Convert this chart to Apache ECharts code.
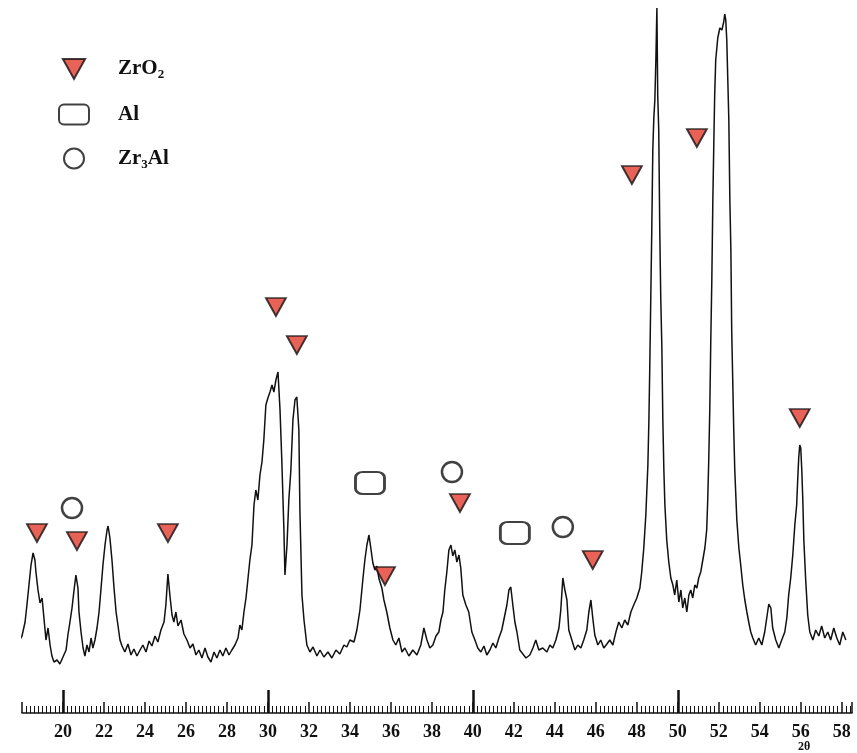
<!DOCTYPE html>
<html>
<head>
<meta charset="utf-8">
<title>XRD pattern</title>
<script src="https://cdn.jsdelivr.net/npm/echarts@6/dist/echarts.min.js"></script>
<style>
  html, body { margin: 0; padding: 0; background: #fff; }
  #chart { width: 857px; height: 753px; }
</style>
</head>
<body>
<div id="chart"></div>
<script>
// Diffraction scan: 2θ (degrees) and intensity (a.u.)
const twoTheta = [
  17.41,17.56,17.71,17.85,18.00,18.15,18.24,18.34,18.44,18.54,
  18.63,18.68,18.78,18.88,18.98,19.07,19.17,19.27,19.37,19.46,
  19.56,19.71,19.85,20.00,20.15,20.24,20.34,20.44,20.54,20.63,
  20.73,20.78,20.88,20.98,21.07,21.17,21.27,21.37,21.46,21.56,
  21.66,21.76,21.85,21.95,22.05,22.15,22.20,22.29,22.39,22.49,
  22.59,22.68,22.78,22.88,23.02,23.17,23.32,23.46,23.61,23.76,
  23.90,24.05,24.20,24.34,24.49,24.63,24.78,24.93,25.02,25.12,
  25.22,25.32,25.41,25.51,25.61,25.76,25.90,26.05,26.20,26.34,
  26.49,26.63,26.78,26.93,27.07,27.22,27.37,27.51,27.66,27.80,
  27.95,28.10,28.24,28.39,
  28.54,28.63,28.73,28.83,28.93,29.02,29.12,29.22,29.32,29.41,
  29.51,29.61,29.71,29.80,29.90,30.00,30.10,30.20,30.29,30.39,
  30.49,30.59,30.68,30.78,30.83,30.93,31.02,31.12,31.22,31.32,
  31.41,31.51,31.56,31.66,31.76,31.90,32.05,32.20,32.39,32.54,
  32.73,32.93,33.12,33.32,33.51,33.71,33.85,34.00,34.20,34.34,
  34.49,34.63,34.73,34.83,34.93,35.02,35.12,35.22,35.32,35.41,
  35.56,35.66,35.80,35.95,36.10,36.24,36.39,36.54,36.68,36.88,
  37.07,37.27,37.46,37.61,37.76,37.90,
  38.05,38.20,38.34,38.44,38.54,38.63,38.73,38.83,38.93,39.02,
  39.12,39.22,39.32,39.41,39.51,39.66,39.80,39.95,40.10,40.24,
  40.39,40.54,40.68,40.83,40.98,41.12,41.27,41.41,41.56,41.66,
  41.76,41.85,41.95,42.05,42.15,42.29,42.44,42.59,42.78,42.93,
  43.07,43.22,43.41,43.61,43.76,43.90,44.05,44.20,44.29,44.39,
  44.49,44.59,44.68,44.83,44.98,45.12,45.27,45.41,45.56,45.66,
  45.76,45.85,45.95,46.10,46.24,46.39,46.54,46.68,46.83,46.98,
  47.12,47.27,47.41,47.56,47.71,47.85,48.00,
  48.15,48.24,48.34,48.44,48.54,48.59,48.63,48.68,48.73,48.78,
  48.83,48.88,48.93,48.98,49.02,49.07,49.12,49.17,49.22,49.27,
  49.32,49.37,49.46,49.56,49.66,49.76,49.85,49.95,50.05,50.15,
  50.24,50.34,50.44,50.54,50.63,50.73,50.83,50.93,51.02,51.12,
  51.22,51.32,51.41,51.46,51.51,51.56,51.61,51.66,51.71,51.76,
  51.80,51.85,51.95,52.05,52.15,52.24,52.29,52.34,52.39,52.44,
  52.49,52.54,52.59,52.63,52.68,52.73,52.78,52.88,52.98,53.07,
  53.17,53.27,53.37,53.46,53.56,53.66,53.80,53.95,54.10,54.24,
  54.34,54.44,54.54,54.63,54.78,54.93,55.07,55.22,55.32,55.41,
  55.51,55.61,55.71,55.80,55.85,55.90,55.95,56.00,56.05,56.10,
  56.15,56.24,56.34,56.44,56.59,56.73,56.88,57.02,57.17,57.32,
  57.46,57.61,57.76,57.90,58.05,58.20
];
const intensity = [
  116,126,122,144,154,182,216,256,296,320,
  306,282,246,220,230,190,146,170,136,114,
  102,106,98,112,126,156,182,210,246,276,
  250,202,162,130,114,136,122,150,130,146,
  170,202,246,296,336,366,374,350,306,250,
  202,176,146,134,122,138,116,128,114,126,
  136,122,144,134,154,142,166,182,216,278,
  234,196,182,202,174,186,158,146,130,138,
  116,126,110,130,112,102,122,110,126,114,
  130,116,126,136,
  150,176,166,202,230,266,306,336,416,446,
  426,476,502,546,616,630,642,656,642,666,
  682,606,502,366,276,336,426,486,586,626,
  632,566,406,236,186,136,122,132,114,126,
  112,122,110,126,118,136,132,146,142,166,
  206,266,306,336,356,330,300,286,294,270,
  250,226,202,170,146,136,150,122,130,114,
  126,116,136,170,146,130,
  136,154,162,186,202,246,282,326,336,314,
  326,302,316,290,236,216,202,162,146,130,
  122,134,116,126,140,130,150,166,196,216,
  246,252,216,182,162,126,118,110,116,130,
  146,126,130,122,136,130,146,170,206,270,
  246,226,166,146,126,136,130,146,166,202,
  226,190,156,136,146,130,138,146,136,162,
  182,170,186,176,202,216,230,
  250,282,330,396,496,586,686,826,966,1126,
  1190,1226,1306,1410,1236,1166,966,826,736,586,
  486,416,346,302,270,256,236,266,222,246,
  210,230,202,236,246,230,256,250,270,282,
  306,330,366,426,506,606,746,866,1026,1146,
  1236,1306,1350,1370,1366,1382,1398,1386,1346,1266,
  1186,1026,926,766,666,566,486,386,330,296,
  256,226,202,182,162,150,136,150,136,162,
  190,218,210,170,146,130,146,162,190,236,
  270,316,376,416,466,510,536,530,486,426,
  346,266,196,162,146,166,154,174,150,162,
  146,170,150,136,162,146
];

// Phase markers placed above the reflections: [2θ, intensity]
const zro2Marks = [[18.73,360],[20.68,344],[25.12,360],[30.39,812],[31.41,736],[35.71,274],[39.37,420],[45.85,306],[47.76,1076],[50.93,1150],[55.95,590]];
const alMarks = [[34.98,460],[42.05,360]];
const zr3alMarks = [[20.44,410],[38.98,482],[44.39,372]];

const phaseNames = ['ZrO2', 'Al', 'Zr3Al'];
const phaseLabels = { 'ZrO2': 'ZrO{s|2}', 'Al': 'Al', 'Zr3Al': 'Zr{s|3}Al' };
const majorTicks = [20, 30, 40, 50];

const triPath = 'path://M0,0L20,0L10,18Z';
const serif = '"Liberation Serif", "DejaVu Serif", serif';

const chart = echarts.init(document.getElementById('chart'), null, { renderer: 'canvas' });

const scan = twoTheta.map((t, i) => [t, intensity[i]]);

chart.setOption({
  animation: false,
  backgroundColor: '#fff',
  grid: { left: 22, right: 5, top: 5, bottom: 40 },
  legend: {
    orient: 'vertical',
    left: 53,
    top: 53,
    itemWidth: 30,
    itemHeight: 20,
    itemGap: 22,
    selectedMode: false,
    data: [
      { name: phaseNames[0], icon: triPath },
      { name: phaseNames[1], icon: 'roundRect' },
      { name: phaseNames[2], icon: 'circle' }
    ],
    formatter: n => phaseLabels[n],
    textStyle: {
      fontFamily: serif, fontSize: 21, fontWeight: 'bold', color: '#111',
      padding: [0, 0, 0, 24],
      rich: { s: { fontFamily: serif, fontSize: 13, fontWeight: 'bold', verticalAlign: 'bottom', padding: [12, 0, 0, 0] } }
    }
  },
  xAxis: [
    {
      type: 'value', min: 18, max: 58.5, interval: 2,
      axisLine: { show: true, lineStyle: { color: '#111', width: 1.5 } },
      axisTick: { show: true, inside: true, length: 11, lineStyle: { color: '#111', width: 1.5 } },
      minorTick: { show: true, splitNumber: 10, length: 7, lineStyle: { color: '#111', width: 1 } },
      splitLine: { show: false },
      axisLabel: {
        margin: 10, color: '#111', fontFamily: serif, fontSize: 18, fontWeight: 'bold',
        formatter: v => (v >= 20 && v <= 58 && Math.abs(v - Math.round(v)) < 1e-6) ? String(v) : ''
      }
    },
    {
      type: 'value', min: 18, max: 58.5, position: 'bottom',
      axisLine: { show: false },
      axisTick: { show: true, inside: true, length: 23, customValues: majorTicks, lineStyle: { color: '#111', width: 2.5 } },
      axisLabel: { show: false },
      splitLine: { show: false }
    }
  ],
  yAxis: { type: 'value', min: 0, max: 1416, show: false },
  graphic: [
    { type: 'text', left: 798, top: 741, style: { text: '2θ', font: 'bold 12px ' + serif, fill: '#111' } }
  ],
  series: [
    {
      name: 'scan', type: 'line', data: scan, showSymbol: false, symbol: 'none', clip: false,
      lineStyle: { color: '#111', width: 1.5 }, z: 2
    },
    {
      name: phaseNames[0], type: 'scatter', data: zro2Marks, symbol: triPath, symbolSize: [20, 18], clip: false,
      itemStyle: { color: '#e23b2e', borderColor: '#111', borderWidth: 1.8 }, z: 5
    },
    {
      name: phaseNames[1], type: 'scatter', data: alMarks, symbol: 'roundRect', symbolSize: [29, 22], clip: false,
      itemStyle: { color: '#fff', borderColor: '#111', borderWidth: 2.5 }, z: 5
    },
    {
      name: phaseNames[2], type: 'scatter', data: zr3alMarks, symbol: 'circle', symbolSize: 20, clip: false,
      itemStyle: { color: '#fff', borderColor: '#111', borderWidth: 2.5 }, z: 5
    }
  ]
});
</script>
</body>
</html>
